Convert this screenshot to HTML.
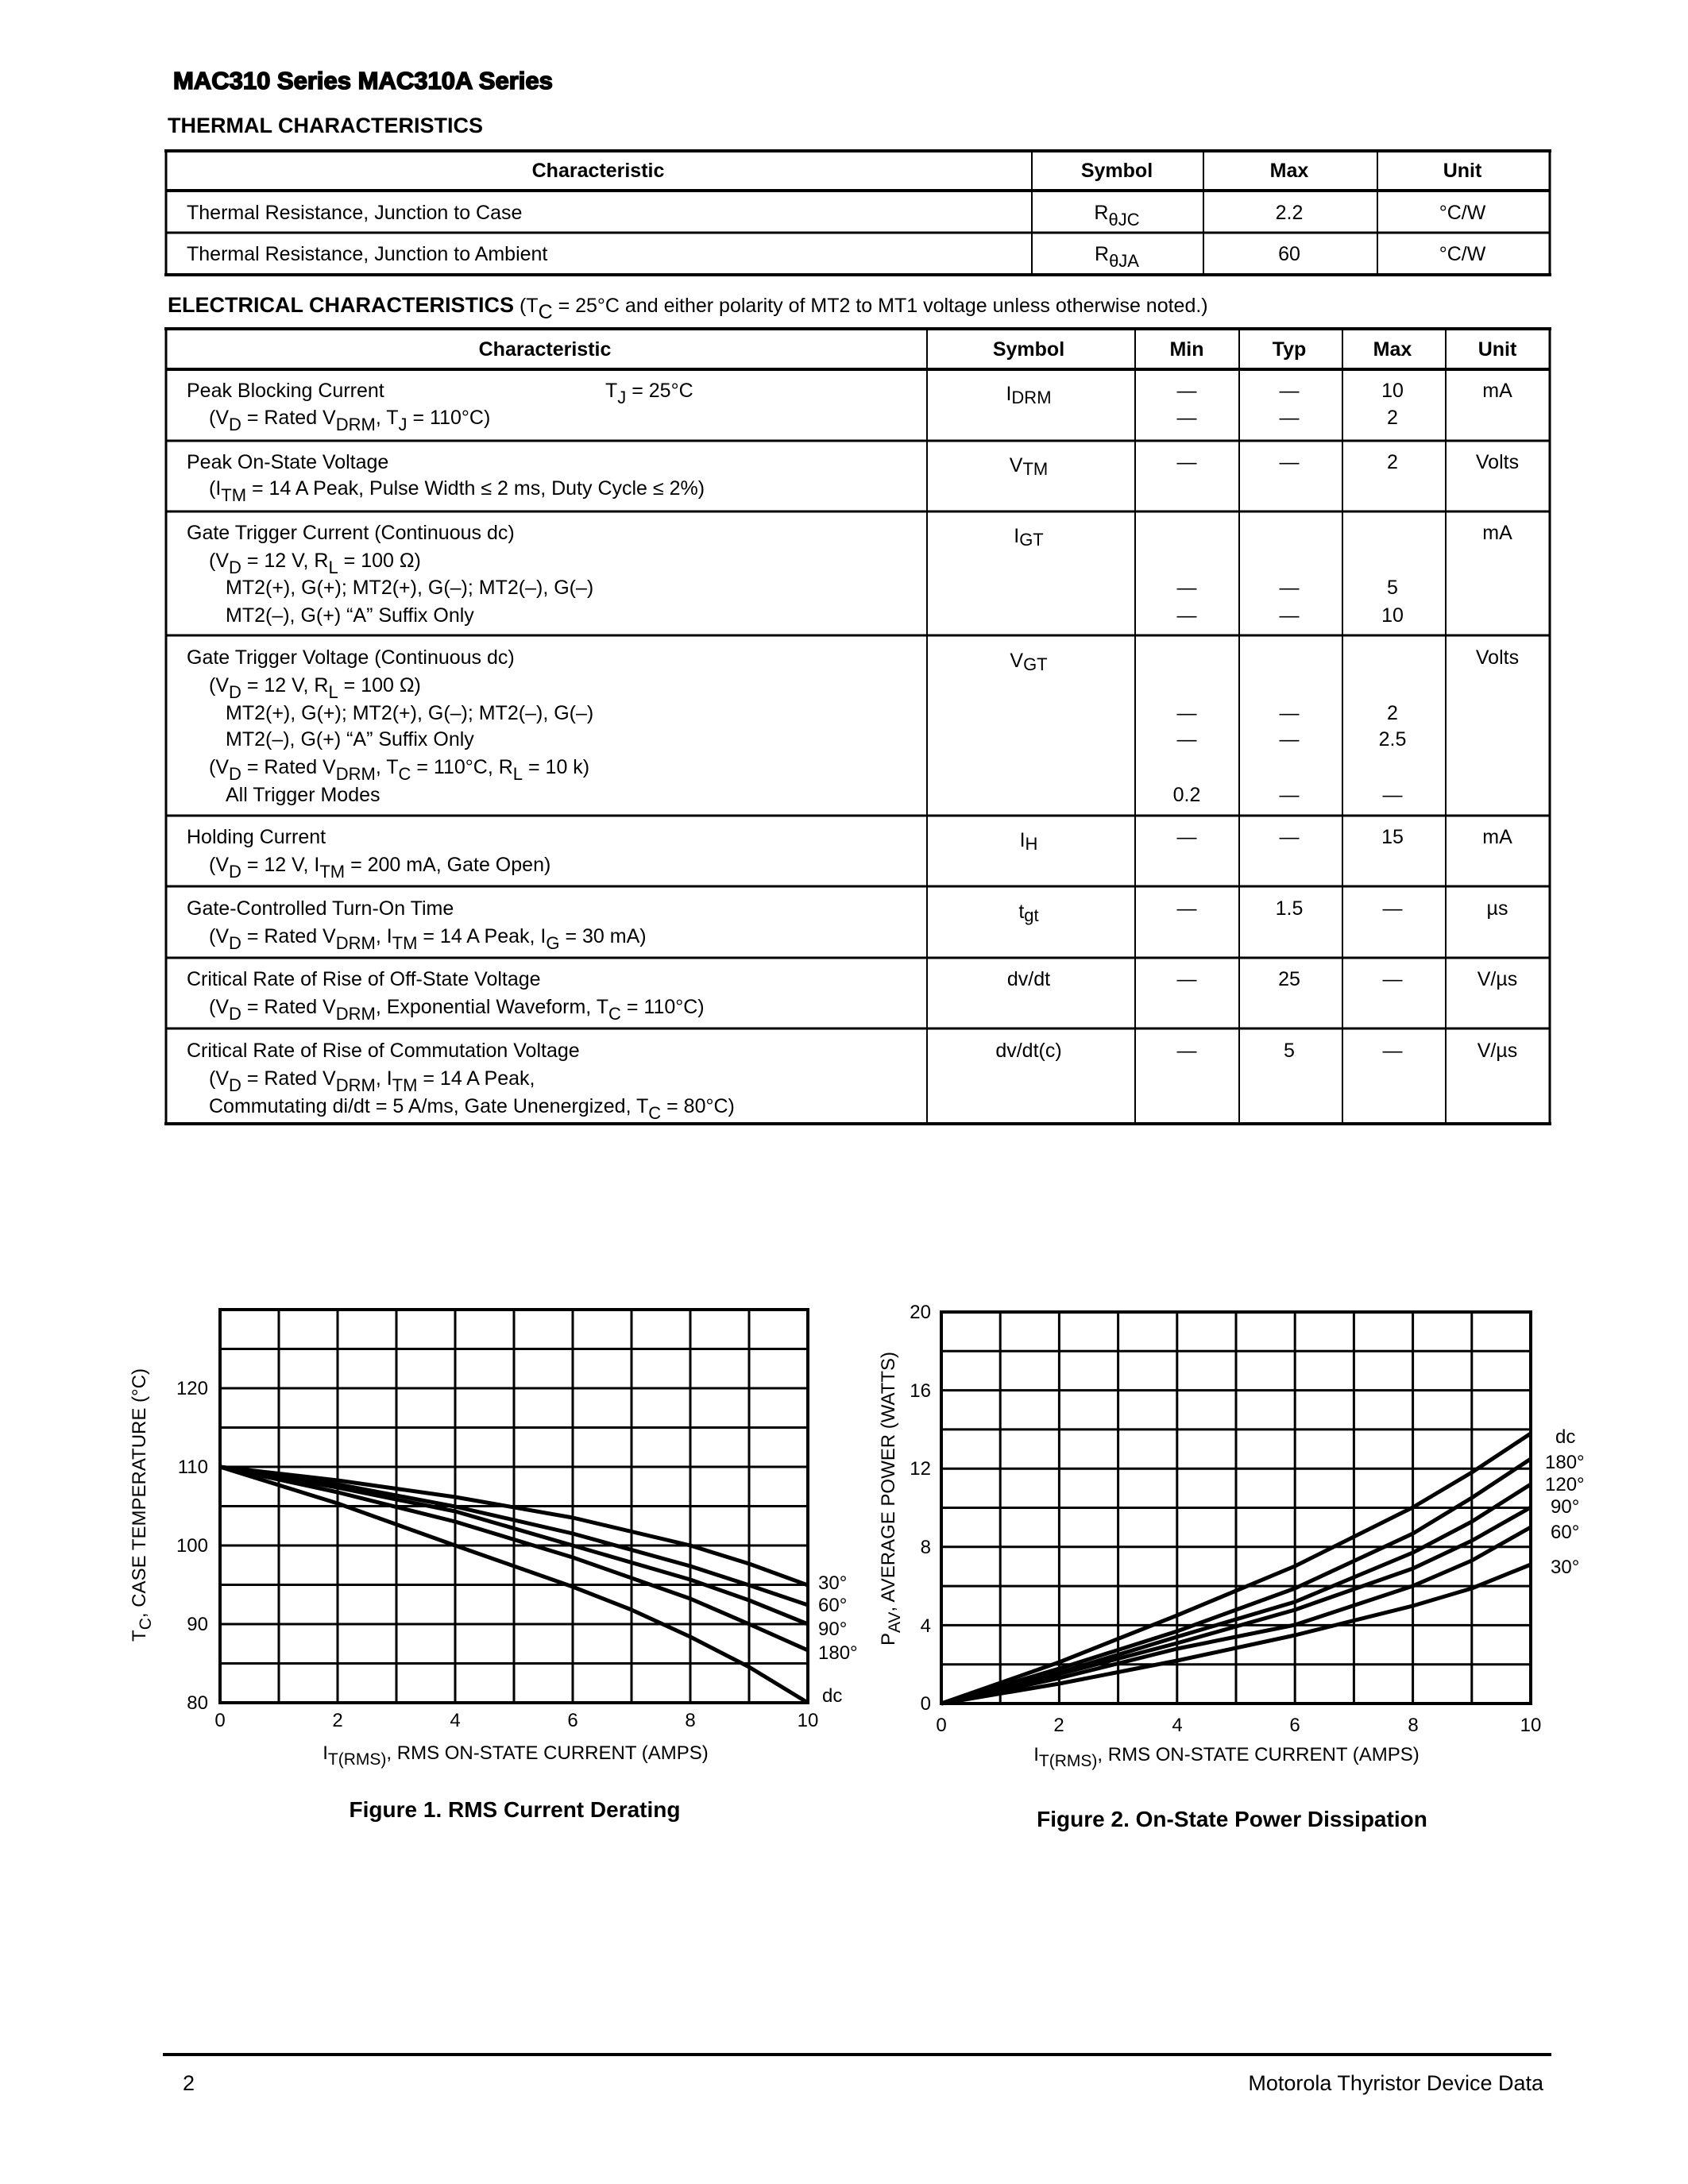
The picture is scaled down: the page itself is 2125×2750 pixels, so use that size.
<!DOCTYPE html>
<html><head><meta charset="utf-8"><style>
html,body{margin:0;padding:0;background:#fff}
svg{display:block}
text{font-family:"Liberation Sans",sans-serif;fill:#000}
.b{font-size:25px}
.h{font-size:25px;font-weight:bold}
.n{font-family:"Liberation Sans Narrow","Liberation Sans",sans-serif;font-size:24px}
.c{text-anchor:middle}
.r{text-anchor:end}
</style></head><body>
<svg width="2125" height="2750" viewBox="0 0 2125 2750" xmlns="http://www.w3.org/2000/svg">
<text x="218" y="112" style="font-size:31px;font-weight:900;stroke:#000;stroke-width:1.6px">MAC310 Series MAC310A Series</text>
<text x="211" y="167" style="font-size:27px;font-weight:bold">THERMAL CHARACTERISTICS</text>

<!-- thermal table -->
<g stroke="#000" fill="none">
<line x1="207" y1="190" x2="1953" y2="190" stroke-width="4"/>
<line x1="209" y1="240" x2="1951" y2="240" stroke-width="4"/>
<line x1="209" y1="293" x2="1951" y2="293" stroke-width="3"/>
<line x1="207" y1="346" x2="1953" y2="346" stroke-width="4"/>
<line x1="209" y1="190" x2="209" y2="346" stroke-width="3"/>
<line x1="1951" y1="190" x2="1951" y2="346" stroke-width="3"/>
<line x1="1299" y1="190" x2="1299" y2="346" stroke-width="2"/>
<line x1="1515" y1="190" x2="1515" y2="346" stroke-width="2"/>
<line x1="1734" y1="190" x2="1734" y2="346" stroke-width="2"/>
</g>
<text class="h c" x="753" y="223">Characteristic</text>
<text class="h c" x="1406" y="223">Symbol</text>
<text class="h c" x="1623" y="223">Max</text>
<text class="h c" x="1841" y="223">Unit</text>
<text class="b" x="235" y="276">Thermal Resistance, Junction to Case</text>
<text class="b" x="235" y="328">Thermal Resistance, Junction to Ambient</text>
<text class="b c" x="1406" y="276">R<tspan dy="8" font-size="22">θJC</tspan></text>
<text class="b c" x="1406" y="328">R<tspan dy="8" font-size="22">θJA</tspan></text>
<text class="b c" x="1623" y="276">2.2</text>
<text class="b c" x="1623" y="328">60</text>
<text class="b c" x="1841" y="276">°C/W</text>
<text class="b c" x="1841" y="328">°C/W</text>

<text x="211" y="393"><tspan style="font-size:27px;font-weight:bold">ELECTRICAL CHARACTERISTICS</tspan><tspan class="b"> (T</tspan><tspan class="b" dy="8" font-size="22">C</tspan><tspan class="b" dy="-8"> = 25°C and either polarity of MT2 to MT1 voltage unless otherwise noted.)</tspan></text>

<!-- electrical table -->
<g stroke="#000" fill="none">
<line x1="207" y1="414" x2="1953" y2="414" stroke-width="4"/>
<line x1="209" y1="465" x2="1951" y2="465" stroke-width="4"/>
<line x1="209" y1="555" x2="1951" y2="555" stroke-width="3"/>
<line x1="209" y1="644" x2="1951" y2="644" stroke-width="3"/>
<line x1="209" y1="800" x2="1951" y2="800" stroke-width="3"/>
<line x1="209" y1="1027" x2="1951" y2="1027" stroke-width="3"/>
<line x1="209" y1="1116" x2="1951" y2="1116" stroke-width="3"/>
<line x1="209" y1="1206" x2="1951" y2="1206" stroke-width="3"/>
<line x1="209" y1="1295" x2="1951" y2="1295" stroke-width="3"/>
<line x1="207" y1="1415" x2="1953" y2="1415" stroke-width="4"/>
<line x1="209" y1="414" x2="209" y2="1415" stroke-width="3"/>
<line x1="1951" y1="414" x2="1951" y2="1415" stroke-width="3"/>
<line x1="1167" y1="414" x2="1167" y2="1415" stroke-width="2"/>
<line x1="1429" y1="414" x2="1429" y2="1415" stroke-width="2"/>
<line x1="1560" y1="414" x2="1560" y2="1415" stroke-width="2"/>
<line x1="1690" y1="414" x2="1690" y2="1415" stroke-width="2"/>
<line x1="1820" y1="414" x2="1820" y2="1415" stroke-width="2"/>
</g>
<text class="h c" x="686" y="448">Characteristic</text>
<text class="h c" x="1295" y="448">Symbol</text>
<text class="h c" x="1494" y="448">Min</text>
<text class="h c" x="1623" y="448">Typ</text>
<text class="h c" x="1753" y="448">Max</text>
<text class="h c" x="1885" y="448">Unit</text>

<g class="b">
<text class="b" x="235" y="500">Peak Blocking Current</text>
<text class="b" x="762" y="500">T<tspan dy="8" font-size="22">J</tspan><tspan dy="-8"> = 25°C</tspan></text>
<text class="b" x="263" y="534">(V<tspan dy="8" font-size="22">D</tspan><tspan dy="-8"> = Rated V</tspan><tspan dy="8" font-size="22">DRM</tspan><tspan dy="-8">, T</tspan><tspan dy="8" font-size="22">J</tspan><tspan dy="-8"> = 110°C)</tspan></text>
<text class="b c" x="1295" y="504">I<tspan dy="4" font-size="22">DRM</tspan></text>
<text class="b c" x="1494" y="500">—</text><text class="b c" x="1623" y="500">—</text><text class="b c" x="1753" y="500">10</text><text class="b c" x="1885" y="500">mA</text>
<text class="b c" x="1494" y="534">—</text><text class="b c" x="1623" y="534">—</text><text class="b c" x="1753" y="534">2</text>
<text class="b" x="235" y="590">Peak On-State Voltage</text>
<text class="b" x="263" y="623">(I<tspan dy="8" font-size="22">TM</tspan><tspan dy="-8"> = 14 A Peak, Pulse Width ≤ 2 ms, Duty Cycle ≤ 2%)</tspan></text>
<text class="b c" x="1295" y="594">V<tspan dy="4" font-size="22">TM</tspan></text>
<text class="b c" x="1494" y="590">—</text><text class="b c" x="1623" y="590">—</text><text class="b c" x="1753" y="590">2</text><text class="b c" x="1885" y="590">Volts</text>
<text class="b" x="235" y="679">Gate Trigger Current (Continuous dc)</text>
<text class="b" x="263" y="714">(V<tspan dy="8" font-size="22">D</tspan><tspan dy="-8"> = 12 V, R</tspan><tspan dy="8" font-size="22">L</tspan><tspan dy="-8"> = 100 Ω)</tspan></text>
<text class="b" x="284" y="748">MT2(+), G(+); MT2(+), G(–); MT2(–), G(–)</text>
<text class="b" x="284" y="783">MT2(–), G(+) “A” Suffix Only</text>
<text class="b c" x="1295" y="683">I<tspan dy="4" font-size="22">GT</tspan></text>
<text class="b c" x="1885" y="679">mA</text>
<text class="b c" x="1494" y="748">—</text><text class="b c" x="1623" y="748">—</text><text class="b c" x="1753" y="748">5</text>
<text class="b c" x="1494" y="783">—</text><text class="b c" x="1623" y="783">—</text><text class="b c" x="1753" y="783">10</text>
<text class="b" x="235" y="836">Gate Trigger Voltage (Continuous dc)</text>
<text class="b" x="263" y="871">(V<tspan dy="8" font-size="22">D</tspan><tspan dy="-8"> = 12 V, R</tspan><tspan dy="8" font-size="22">L</tspan><tspan dy="-8"> = 100 Ω)</tspan></text>
<text class="b" x="284" y="906">MT2(+), G(+); MT2(+), G(–); MT2(–), G(–)</text>
<text class="b" x="284" y="939">MT2(–), G(+) “A” Suffix Only</text>
<text class="b" x="263" y="974">(V<tspan dy="8" font-size="22">D</tspan><tspan dy="-8"> = Rated V</tspan><tspan dy="8" font-size="22">DRM</tspan><tspan dy="-8">, T</tspan><tspan dy="8" font-size="22">C</tspan><tspan dy="-8"> = 110°C, R</tspan><tspan dy="8" font-size="22">L</tspan><tspan dy="-8"> = 10 k)</tspan></text>
<text class="b" x="284" y="1009">All Trigger Modes</text>
<text class="b c" x="1295" y="840">V<tspan dy="4" font-size="22">GT</tspan></text>
<text class="b c" x="1885" y="836">Volts</text>
<text class="b c" x="1494" y="906">—</text><text class="b c" x="1623" y="906">—</text><text class="b c" x="1753" y="906">2</text>
<text class="b c" x="1494" y="939">—</text><text class="b c" x="1623" y="939">—</text><text class="b c" x="1753" y="939">2.5</text>
<text class="b c" x="1494" y="1009">0.2</text><text class="b c" x="1623" y="1009">—</text><text class="b c" x="1753" y="1009">—</text>
<text class="b" x="235" y="1062">Holding Current</text>
<text class="b" x="263" y="1097">(V<tspan dy="8" font-size="22">D</tspan><tspan dy="-8"> = 12 V, I</tspan><tspan dy="8" font-size="22">TM</tspan><tspan dy="-8"> = 200 mA, Gate Open)</tspan></text>
<text class="b c" x="1295" y="1066">I<tspan dy="4" font-size="22">H</tspan></text>
<text class="b c" x="1494" y="1062">—</text><text class="b c" x="1623" y="1062">—</text><text class="b c" x="1753" y="1062">15</text><text class="b c" x="1885" y="1062">mA</text>
<text class="b" x="235" y="1152">Gate-Controlled Turn-On Time</text>
<text class="b" x="263" y="1187">(V<tspan dy="8" font-size="22">D</tspan><tspan dy="-8"> = Rated V</tspan><tspan dy="8" font-size="22">DRM</tspan><tspan dy="-8">, I</tspan><tspan dy="8" font-size="22">TM</tspan><tspan dy="-8"> = 14 A Peak, I</tspan><tspan dy="8" font-size="22">G</tspan><tspan dy="-8"> = 30 mA)</tspan></text>
<text class="b c" x="1295" y="1156">t<tspan dy="4" font-size="22">gt</tspan></text>
<text class="b c" x="1494" y="1152">—</text><text class="b c" x="1623" y="1152">1.5</text><text class="b c" x="1753" y="1152">—</text><text class="b c" x="1885" y="1152">µs</text>
<text class="b" x="235" y="1241">Critical Rate of Rise of Off-State Voltage</text>
<text class="b" x="263" y="1276">(V<tspan dy="8" font-size="22">D</tspan><tspan dy="-8"> = Rated V</tspan><tspan dy="8" font-size="22">DRM</tspan><tspan dy="-8">, Exponential Waveform, T</tspan><tspan dy="8" font-size="22">C</tspan><tspan dy="-8"> = 110°C)</tspan></text>
<text class="b c" x="1295" y="1241">dv/dt</text>
<text class="b c" x="1494" y="1241">—</text><text class="b c" x="1623" y="1241">25</text><text class="b c" x="1753" y="1241">—</text><text class="b c" x="1885" y="1241">V/µs</text>
<text class="b" x="235" y="1331">Critical Rate of Rise of Commutation Voltage</text>
<text class="b" x="263" y="1366">(V<tspan dy="8" font-size="22">D</tspan><tspan dy="-8"> = Rated V</tspan><tspan dy="8" font-size="22">DRM</tspan><tspan dy="-8">, I</tspan><tspan dy="8" font-size="22">TM</tspan><tspan dy="-8"> = 14 A Peak,</tspan></text>
<text class="b" x="263" y="1401">Commutating di/dt = 5 A/ms, Gate Unenergized, T<tspan dy="8" font-size="22">C</tspan><tspan dy="-8"> = 80°C)</tspan></text>
<text class="b c" x="1295" y="1331">dv/dt(c)</text>
<text class="b c" x="1494" y="1331">—</text><text class="b c" x="1623" y="1331">5</text><text class="b c" x="1753" y="1331">—</text><text class="b c" x="1885" y="1331">V/µs</text>
</g>

<!-- Figure 1 -->
<g stroke="#000" stroke-width="3" fill="none">
<path d="M351 1649V2144M425 1649V2144M499 1649V2144M573 1649V2144M647 1649V2144M721 1649V2144M795 1649V2144M869 1649V2144M943 1649V2144"/>
<path d="M277 1698.5H1017M277 1748H1017M277 1797.5H1017M277 1847H1017M277 1896.5H1017M277 1946H1017M277 1995.5H1017M277 2045H1017M277 2094.5H1017"/>
<rect x="277" y="1649" width="740" height="495" stroke-width="4"/>
</g>
<g stroke="#000" stroke-width="5" fill="none" stroke-linejoin="round">
<polyline points="277,1847 425,1864 573,1885 721,1911 869,1946 943,1969 1017,1996"/>
<polyline points="277,1847 425,1869 573,1897 721,1931 869,1972 943,1996 1017,2021"/>
<polyline points="277,1847 425,1873 573,1903 721,1946 869,1989 943,2015 1017,2045"/>
<polyline points="277,1847 425,1879 573,1916 721,1961 869,2013 943,2045 1017,2078"/>
<polyline points="277,1847 425,1893 573,1946 721,1998 795,2027 869,2061 943,2099 1017,2144"/>
</g>
<g>
<text class="n r" x="262" y="1756">120</text>
<text class="n r" x="262" y="1855">110</text>
<text class="n r" x="262" y="1954">100</text>
<text class="n r" x="262" y="2053">90</text>
<text class="n r" x="262" y="2152">80</text>
<text class="n c" x="277" y="2174">0</text>
<text class="n c" x="425" y="2174">2</text>
<text class="n c" x="573" y="2174">4</text>
<text class="n c" x="721" y="2174">6</text>
<text class="n c" x="869" y="2174">8</text>
<text class="n c" x="1017" y="2174">10</text>
<text class="n" x="1030" y="2001">30°</text>
<text class="n" x="1030" y="2029">60°</text>
<text class="n" x="1030" y="2059">90°</text>
<text class="n" x="1030" y="2089">180°</text>
<text class="n" x="1035" y="2143">dc</text>
<text class="n c" x="649" y="2215">I<tspan dy="7" font-size="21">T(RMS)</tspan><tspan dy="-7">, RMS ON-STATE CURRENT (AMPS)</tspan></text>
<text class="n c" transform="translate(183,1895) rotate(-90)">T<tspan dy="7" font-size="21">C</tspan><tspan dy="-7">, CASE TEMPERATURE (°C)</tspan></text>
</g>
<text class="c" x="648" y="2288" style="font-size:28px;font-weight:bold">Figure 1. RMS Current Derating</text>

<!-- Figure 2 -->
<g stroke="#000" stroke-width="3" fill="none">
<path d="M1259.2 1652V2145M1333.4 1652V2145M1407.6 1652V2145M1481.8 1652V2145M1556 1652V2145M1630.2 1652V2145M1704.4 1652V2145M1778.6 1652V2145M1852.8 1652V2145"/>
<path d="M1185 1701.3H1927M1185 1750.6H1927M1185 1799.9H1927M1185 1849.2H1927M1185 1898.5H1927M1185 1947.8H1927M1185 1997.1H1927M1185 2046.4H1927M1185 2095.7H1927"/>
<rect x="1185" y="1652" width="742" height="493" stroke-width="4"/>
</g>
<g stroke="#000" stroke-width="5" fill="none" stroke-linejoin="round">
<polyline points="1185,2145 1333.4,2093 1481.8,2034 1630.2,1972 1778.6,1898 1852.8,1854 1927,1805"/>
<polyline points="1185,2145 1333.4,2101 1481.8,2054 1630.2,2000 1778.6,1931 1852.8,1886 1927,1837"/>
<polyline points="1185,2145 1333.4,2106 1481.8,2061 1630.2,2017 1778.6,1955 1852.8,1916 1927,1869"/>
<polyline points="1185,2145 1333.4,2108 1481.8,2069 1630.2,2027 1778.6,1975 1852.8,1940 1927,1898"/>
<polyline points="1185,2145 1333.4,2113 1481.8,2076 1630.2,2046 1778.6,1997 1852.8,1965 1927,1923"/>
<polyline points="1185,2145 1333.4,2120 1481.8,2091 1630.2,2059 1778.6,2022 1852.8,2000 1927,1970"/>
</g>
<g>
<text class="n r" x="1172" y="1660">20</text>
<text class="n r" x="1172" y="1759">16</text>
<text class="n r" x="1172" y="1857">12</text>
<text class="n r" x="1172" y="1956">8</text>
<text class="n r" x="1172" y="2055">4</text>
<text class="n r" x="1172" y="2153">0</text>
<text class="n c" x="1185" y="2180">0</text>
<text class="n c" x="1333" y="2180">2</text>
<text class="n c" x="1482" y="2180">4</text>
<text class="n c" x="1630" y="2180">6</text>
<text class="n c" x="1779" y="2180">8</text>
<text class="n c" x="1927" y="2180">10</text>
<text class="n" x="1958" y="1817">dc</text>
<text class="n" x="1945" y="1849">180°</text>
<text class="n" x="1945" y="1877">120°</text>
<text class="n" x="1952" y="1905">90°</text>
<text class="n" x="1952" y="1937">60°</text>
<text class="n" x="1952" y="1981">30°</text>
<text class="n c" x="1544" y="2217">I<tspan dy="7" font-size="21">T(RMS)</tspan><tspan dy="-7">, RMS ON-STATE CURRENT (AMPS)</tspan></text>
<text class="n c" transform="translate(1126,1887) rotate(-90)">P<tspan dy="7" font-size="21">AV</tspan><tspan dy="-7">, AVERAGE POWER (WATTS)</tspan></text>
</g>
<text class="c" x="1551" y="2300" style="font-size:28px;font-weight:bold">Figure 2. On-State Power Dissipation</text>

<line x1="205" y1="2587" x2="1953" y2="2587" stroke="#000" stroke-width="4"/>
<text class="b" x="230" y="2632" style="font-size:27px">2</text>
<text class="b r" x="1943" y="2632" style="font-size:27px">Motorola Thyristor Device Data</text>
</svg>
</body></html>
